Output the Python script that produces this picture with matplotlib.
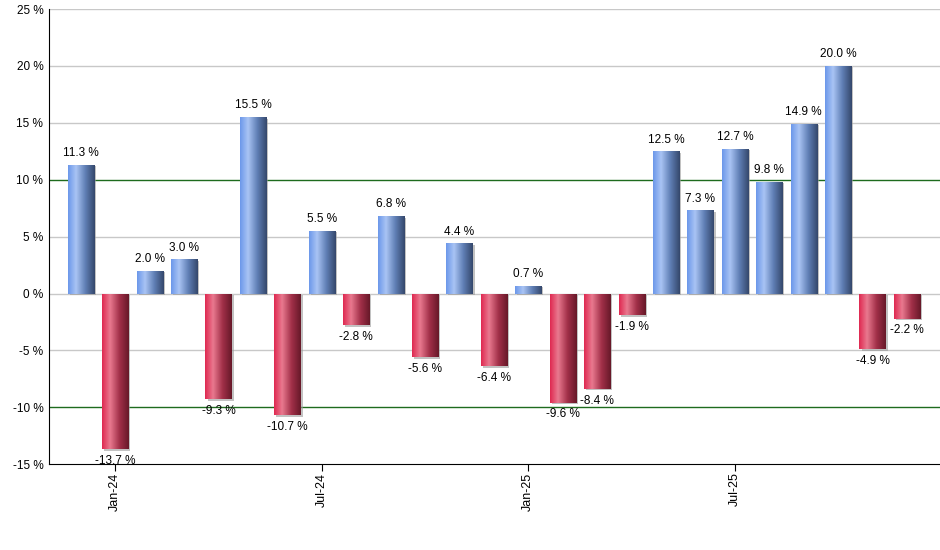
import numpy as np
import matplotlib.pyplot as plt
from matplotlib.colors import LinearSegmentedColormap

# monthly returns, Dec-23 .. Dec-25
months = ["Dec-23", "Jan-24", "Feb-24", "Mar-24", "Apr-24", "May-24", "Jun-24",
          "Jul-24", "Aug-24", "Sep-24", "Oct-24", "Nov-24", "Dec-24", "Jan-25",
          "Feb-25", "Mar-25", "Apr-25", "May-25", "Jun-25", "Jul-25", "Aug-25",
          "Sep-25", "Oct-25", "Nov-25", "Dec-25"]
returns = [11.3, -13.7, 2.0, 3.0, -9.3, 15.5, -10.7, 5.5, -2.8, 6.8, -5.6, 4.4,
           -6.4, 0.7, -9.6, -8.4, -1.9, 12.5, 7.3, 12.7, 9.8, 14.9, 20.0, -4.9, -2.2]
tick_months = ["Jan-24", "Jul-24", "Jan-25", "Jul-25"]
y_ticks = [-15, -10, -5, 0, 5, 10, 15, 20, 25]

plt.rcParams["font.family"] = ["Liberation Sans", "DejaVu Sans"]

blue_cmap = LinearSegmentedColormap.from_list(
    "blue", [(0, "#6b97ea"), (0.3, "#a9c4f4"), (0.65, "#5f7eb4"), (1, "#34476b")])
red_cmap = LinearSegmentedColormap.from_list(
    "red", [(0, "#df2850"), (0.3, "#e9798f"), (0.65, "#a23049"), (1, "#661828")])
grad = np.linspace(0, 1, 256).reshape(1, -1)

fig = plt.figure(figsize=(9.4, 5.5), dpi=100)
ax = fig.add_axes([0.052, 0.156, 0.948, 0.8275])

x = np.arange(len(returns))
bars = ax.bar(x, returns, width=0.76, color="none", edgecolor="none", zorder=3)

for b, v in zip(bars, returns):
    x0, y0 = b.get_x(), b.get_y()
    w, h = b.get_width(), b.get_height()
    y_lo, y_hi = min(y0, y0 + h), max(y0, y0 + h)
    # soft shadow on the right / bottom
    ax.bar(x0 + w / 2 + 0.06, y_hi - y_lo, bottom=y_lo - 0.12, width=w,
           color="#9a9a9a", alpha=0.6, zorder=2)
    im = ax.imshow(grad, cmap=blue_cmap if v >= 0 else red_cmap, aspect="auto",
                   extent=(x0, x0 + w, y_lo, y_hi), zorder=3, interpolation="bilinear")
    im.set_clip_path(b)
    if v >= 0:
        ax.text(x0 + w / 2, y_hi + 0.5, f"{v:.1f} %", ha="center", va="bottom",
                fontsize=8.5, zorder=4)
    else:
        ax.text(x0 + w / 2, y_lo - 0.5, f"{v:.1f} %", ha="center", va="top",
                fontsize=8.5, zorder=4)

ax.set_xlim(-0.93, 24.96)
ax.set_ylim(-15, 25)
ax.set_yticks(y_ticks)
ax.set_yticklabels([f"{t} %" for t in y_ticks], fontsize=8.5)
for t in y_ticks:
    if abs(t) == 10:
        ax.axhline(t, color="#1e6b1e", linewidth=1, zorder=1)
    elif t != -15:
        ax.axhline(t, color="#c8c8c8", linewidth=1, zorder=1)

ax.set_xticks([months.index(m) for m in tick_months])
ax.set_xticklabels(tick_months, rotation=90, fontsize=9)
ax.tick_params(axis="x", direction="out", length=5, color="black", pad=1)
ax.tick_params(axis="y", length=0, pad=4)

for side in ("top", "right"):
    ax.spines[side].set_visible(False)
ax.spines["left"].set_color("black")
ax.spines["bottom"].set_color("black")
ax.spines["left"].set_zorder(5)
ax.spines["bottom"].set_zorder(5)

fig.savefig("out.png", dpi=100)
